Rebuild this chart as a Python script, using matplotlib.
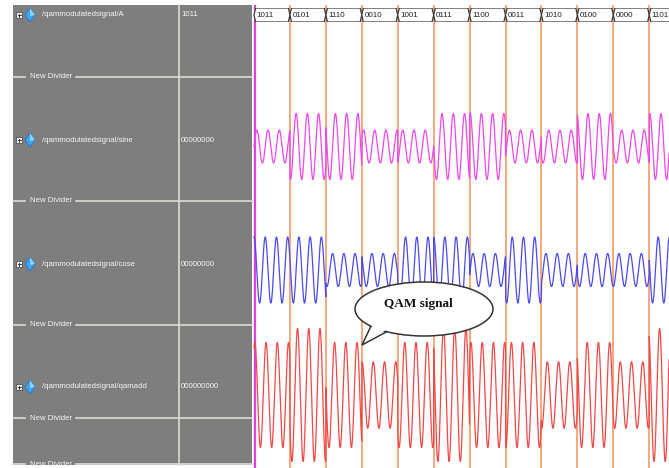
import numpy as np
import matplotlib
matplotlib.use("Agg")
import matplotlib.pyplot as plt
from matplotlib.patches import Rectangle, Polygon, Ellipse

W, H = 669, 468

# symbol values shown on the bus row (last one is cut off at the right edge)
bus_values = ['1011', '0101', '1110', '0010', '1001', '0111', '1100', '0011', '1010', '0100', '0000', '1101']
# carrier amplitude per symbol (1 = large, 0.5 = small)
sine_amp = [0.5, 1, 1, 0.5, 0.5, 1, 1, 0.5, 0.5, 1, 0.5, 1]
cose_amp = [1, 1, 0.5, 0.5, 1, 1, 0.5, 1, 0.5, 0.5, 0.5, 1]
sine_sign = [1, -1, 1, -1, 1, -1, 1, -1, 1, -1, -1, 1]
cose_sign = [1, 1, 1, -1, -1, 1, -1, 1, 1, -1, -1, 1]

signal_names = ['/qammodulatedsignal/A', '/qammodulatedsignal/sine',
                '/qammodulatedsignal/cose', '/qammodulatedsignal/qamadd']
signal_values = ['1011', '00000000', '00000000', '000000000']
signal_rows = [15, 140, 264, 387]
divider_rows = [77, 201, 325, 418, 464]

cycles_per_symbol = 3.2
sym_px = 35.93
t0_px = 254
x_lo = (253 - t0_px) / sym_px
x_hi = (W - t0_px) / sym_px


def px_axes(fig, x0, y0, x1, y1):
    return fig.add_axes([x0 / W, 1 - y1 / H, (x1 - x0) / W, (y1 - y0) / H])


fig = plt.figure(figsize=(W / 100, H / 100), dpi=100)
fig.patch.set_facecolor('white')

# ---- left panel (names / values) ----
bg = px_axes(fig, 0, 0, W, H)
bg.set_xlim(0, W)
bg.set_ylim(H, 0)
bg.axis('off')
gray = '#7e7e7e'
light = '#dcdcd4'
bg.add_patch(Rectangle((13, 5), 239, 460, facecolor=gray, edgecolor='none'))
bg.plot([178.5, 178.5], [5, 465], color=light, lw=1.2)
font = dict(family='Liberation Sans', color='#f6f6f6', fontsize=5.6)
for y in divider_rows:
    bg.plot([13, 25], [y, y], color=light, lw=1.2, clip_on=True)
    bg.plot([76, 252], [y, y], color=light, lw=1.2)
    t = bg.text(30, y, 'New Divider', va='center', ha='left', **font)
    t.set_clip_path(Rectangle((13, 5), 239, 460, transform=bg.transData))
for name, val, y in zip(signal_names, signal_values, signal_rows):
    bg.add_patch(Rectangle((16, y - 3), 6, 6, facecolor='#f0f0f0', edgecolor='#404040', lw=0.5))
    bg.plot([17.5, 20.5], [y, y], color='#202020', lw=0.6)
    bg.plot([19, 19], [y - 1.5, y + 1.5], color='#202020', lw=0.6)
    bg.add_patch(Polygon([(30, y - 7), (35, y), (30, y + 7), (25, y)],
                         facecolor='#3da5f5', edgecolor='#1c6fc8', lw=0.5))
    bg.add_patch(Polygon([(30, y - 7), (35, y), (30, y + 1)], facecolor='#8fd0ff', edgecolor='none'))
    bg.text(42, y, name, va='center', ha='left', **font)
    bg.text(181, y, val, va='center', ha='left', **font)

# ---- wave window background with symbol markers ----
wave = px_axes(fig, 253, 5, W, H)
wave.set_xlim(x_lo, x_hi)
wave.set_ylim(0, 1)
wave.axis('off')
wave.add_patch(Rectangle((x_lo, 0), x_hi - x_lo, 1, facecolor='white', edgecolor='none'))
for k in range(1, len(bus_values)):
    wave.axvline(k, color='#f5a275', lw=1.3)
wave.axvline(0.03, color='#e040e0', lw=1.6)

n = len(bus_values)
t = np.linspace(0, n, 8000)
idx = np.minimum(t.astype(int), n - 1)
phase = 2 * np.pi * cycles_per_symbol * t
sine = np.array(sine_amp)[idx] * np.array(sine_sign)[idx] * np.sin(phase)
cose = np.array(cose_amp)[idx] * np.array(cose_sign)[idx] * np.cos(phase)
qamadd = sine + cose

# ---- bus row ----
bus = px_axes(fig, 253, 8, W, 22)
bus.set_xlim(x_lo, x_hi)
bus.set_ylim(0, 1)
bus.axis('off')
d = 0.045
for k, v in enumerate(bus_values):
    pts = [(k, 0.5), (k + d, 1), (k + 1 - d, 1), (k + 1, 0.5), (k + 1 - d, 0), (k + d, 0)]
    bus.add_patch(Polygon(pts, facecolor='white', edgecolor='#3a3a3a', lw=0.9))
    bus.text(k + 0.07, 0.45, v, va='center', ha='left', fontsize=5.8,
             family='Liberation Sans', color='#202020', clip_on=True)


def signal_axes(center, scale, half=75):
    ax = px_axes(fig, 253, center - half, W, center + half)
    ax.set_xlim(x_lo, x_hi)
    ax.set_ylim(-half / scale, half / scale)
    ax.axis('off')
    ax.patch.set_alpha(0)
    return ax


ax1 = signal_axes(146.5, 33)
ax1.plot(t, sine, color='#ee48ee', lw=0.9)
ax2 = signal_axes(270, 33)
ax2.plot(t, cose, color='#4a4af0', lw=0.9)
ax3 = signal_axes(395, 47)
ax3.plot(t, qamadd, color='#f24848', lw=0.9)

# ---- callout ----
top = px_axes(fig, 0, 0, W, H)
top.set_xlim(0, W)
top.set_ylim(H, 0)
top.axis('off')
top.patch.set_alpha(0)
top.add_patch(Polygon([(372, 324), (362, 345), (388, 331)], facecolor='white',
                      edgecolor='#333333', lw=1.1, zorder=2))
top.add_patch(Ellipse((424, 309), 138, 54, facecolor='white', edgecolor='#333333', lw=1.1, zorder=3))
top.add_patch(Polygon([(374, 322), (366, 340), (388, 329)], facecolor='white',
                      edgecolor='none', zorder=4))
top.text(418, 304, 'QAM signal', ha='center', va='center', fontsize=9.5,
         family='Liberation Serif', weight='bold', color='#111111', zorder=5)

fig.savefig('out.png', dpi=100)
